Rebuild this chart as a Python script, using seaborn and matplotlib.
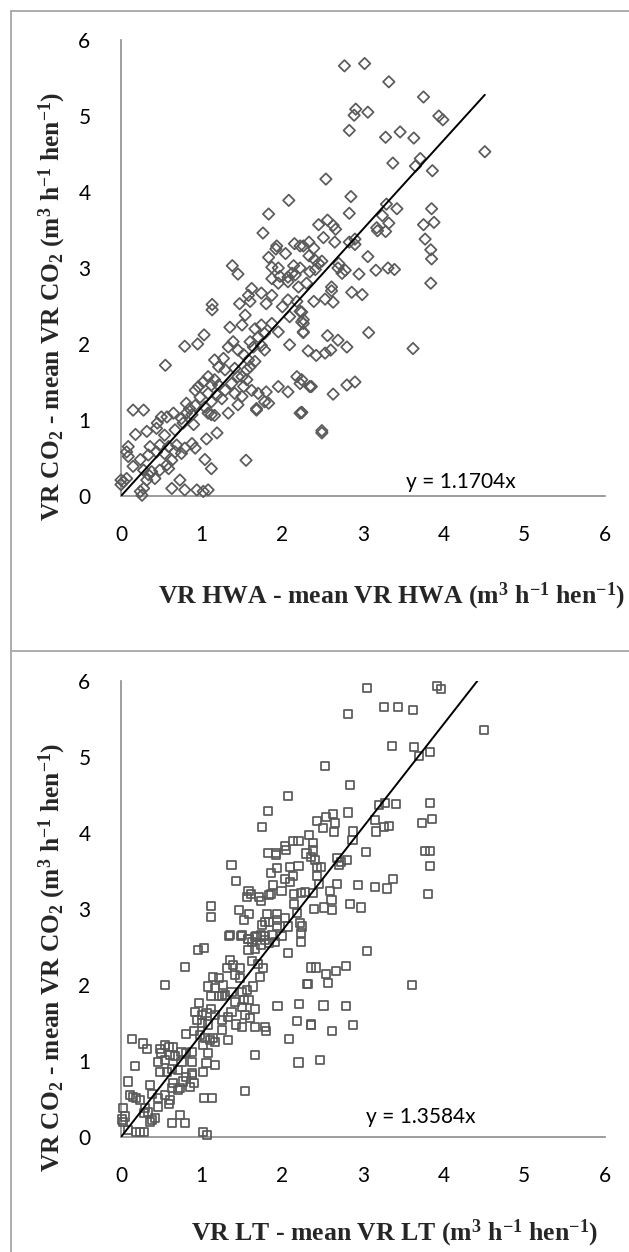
import numpy as np
import pandas as pd
import matplotlib
matplotlib.use("Agg")
import matplotlib.pyplot as plt
from matplotlib.lines import Line2D
import seaborn as sns

# ---------------- data: top panel (HWA) ----------------
hwa_x = [2.77, 3.02, 3.32, 3.75, 2.91, 2.89, 3.06, 3.94, 3.99, 2.83, 3.28, 3.46, 3.63, 4.51, 3.37, 3.71, 3.65, 3.86,
         2.54, 2.85, 2.08, 3.29, 3.42, 3.85, 2.83, 3.24, 1.83, 3.32, 3.75, 3.88, 3.17, 3.18, 3.28, 2.56, 2.45, 2.63,
         2.66, 1.76, 2.51, 2.65, 2.83, 2.90, 2.90, 3.77, 3.84, 3.85, 3.06, 3.16, 3.31, 3.39, 2.95,
         1.93, 1.92, 1.83, 1.87, 1.95, 2.04, 2.15, 2.22, 2.26, 2.33, 2.39, 2.33, 2.40, 2.45, 2.49, 2.41, 2.14, 2.22,
         2.12, 1.38, 1.45, 2.70, 2.69, 2.78, 2.74, 1.97, 2.07,
         3.84, 2.61, 2.61, 2.86, 2.99, 2.39, 2.53, 2.63, 2.24, 2.26, 2.26, 2.26, 2.56, 3.07, 2.69, 2.80, 2.32, 2.42,
         2.53, 2.60, 3.62, 2.24, 2.36, 2.63, 2.80, 2.90, 2.24, 2.49,
         1.13, 1.13, 0.55, 0.79, 0.95, 1.03, 0.15, 0.28, 1.35, 1.47, 1.60, 1.62, 1.58, 1.54, 1.50,
         1.87, 1.95, 2.07, 2.16, 2.20, 2.30, 2.34, 1.80, 1.87, 1.74, 2.00, 2.07, 2.18, 2.22, 2.09, 2.24, 2.26,
         1.95, 1.87, 1.74, 1.78, 1.66, 1.70, 1.60, 1.64, 1.74, 1.78, 2.09,
         1.33, 1.39, 1.45, 1.52, 1.27, 1.16, 1.21, 1.29, 1.41, 1.58, 1.66, 1.56, 1.60, 1.50,
         1.08, 1.16, 1.12, 1.21, 1.29, 1.19, 1.37, 1.45, 1.52, 1.41, 1.56,
         0.92, 0.96, 1.02, 0.98, 1.08, 1.12, 1.25, 0.81, 0.85, 0.92, 1.04, 1.08, 1.16, 1.33,
         1.62, 1.70, 1.80, 1.78, 1.95, 2.07, 2.18, 2.22, 2.34, 1.50, 1.45, 1.68, 1.83, 2.24, 0.50, 0.57, 0.65,
         0.45, 0.75, 0.81, 0.88, 1.12, 1.68, 2.22,
         0.18, 0.32, 0.44, 0.54, 0.67, 0.77, 0.90, 1.06, 1.19, 0.88, 0.79, 0.92, 0.69, 0.59,
         0.09, 0.07, 0.09, 0.24, 0.15, 0.34, 0.36, 0.48, 0.44, 0.54, 0.63, 0.67, 0.75, 1.04, 1.12, 1.55,
         0.28, 0.34, 0.42, 0.32, 0.38, 0.48, 0.57, 0.59, 0.00, 0.03, 0.07, 0.24, 0.28, 0.26,
         0.63, 0.73, 0.79, 0.94, 1.02, 1.08, 0.00, 2.49]
hwa_y = [5.66, 5.69, 5.45, 5.25, 5.09, 5.01, 5.05, 5.00, 4.95, 4.81, 4.72, 4.79, 4.71, 4.53, 4.38, 4.44, 4.34, 4.28,
         4.17, 3.94, 3.89, 3.84, 3.78, 3.78, 3.72, 3.69, 3.71, 3.59, 3.57, 3.60, 3.53, 3.49, 3.48, 3.63, 3.57, 3.56,
         3.51, 3.46, 3.40, 3.34, 3.34, 3.38, 3.31, 3.38, 3.24, 3.12, 3.15, 2.97, 3.00, 2.98, 2.92,
         3.29, 3.25, 3.14, 3.01, 3.00, 3.19, 3.32, 3.29, 3.29, 3.34, 3.26, 3.16, 3.11, 3.06, 3.09, 2.98, 3.03, 3.00,
         2.93, 3.03, 2.92, 3.06, 3.00, 2.97, 2.93, 2.89, 2.88,
         2.80, 2.75, 2.70, 2.68, 2.65, 2.56, 2.59, 2.55, 2.42, 2.32, 2.27, 2.15, 2.11, 2.15, 2.05, 1.96, 1.91, 1.85,
         1.88, 1.92, 1.94, 1.53, 1.44, 1.34, 1.46, 1.50, 1.10, 0.83,
         2.52, 2.45, 1.72, 1.97, 2.00, 2.12, 1.13, 1.13, 2.22, 2.53, 2.56, 2.73, 2.64, 2.38, 2.25,
         2.86, 2.80, 2.82, 2.91, 2.75, 2.80, 2.95, 2.53, 2.64, 2.67, 2.49, 2.58, 2.56, 2.43, 2.36, 2.29, 2.16,
         2.16, 2.27, 2.25, 2.14, 2.20, 2.09, 2.03, 1.96, 1.98, 1.92, 1.99,
         1.96, 2.03, 1.92, 1.86, 1.81, 1.79, 1.70, 1.66, 1.68, 1.79, 1.77, 1.66, 1.70, 1.57,
         1.57, 1.53, 1.46, 1.46, 1.39, 1.33, 1.48, 1.57, 1.44, 1.35, 1.53,
         1.39, 1.44, 1.50, 1.30, 1.35, 1.24, 1.28, 1.22, 1.15, 1.19, 1.17, 1.09, 1.06, 1.09,
         1.39, 1.35, 1.37, 1.24, 1.44, 1.37, 1.57, 1.48, 1.44, 1.31, 1.20, 1.15, 1.22, 1.10, 1.04, 1.04, 1.09,
         0.96, 1.02, 1.09, 1.07, 1.07, 1.13, 1.09,
         0.81, 0.85, 0.89, 0.80, 0.87, 0.96, 0.94, 0.75, 0.83, 0.69, 0.63, 0.63, 0.67, 0.65,
         0.65, 0.58, 0.52, 0.48, 0.39, 0.54, 0.65, 0.67, 0.58, 0.56, 0.47, 0.58, 0.56, 0.48, 0.36, 0.47,
         0.34, 0.28, 0.23, 0.21, 0.32, 0.34, 0.41, 0.36, 0.21, 0.19, 0.23, 0.06, 0.10, 0.01,
         0.10, 0.21, 0.08, 0.08, 0.06, 0.08, 0.15, 0.86]
hwa_slope = 1.1704

# ---------------- data: bottom panel (LT) ----------------
lt_x = [3.05, 3.92, 3.97, 3.26, 3.43, 3.62, 2.81, 4.50, 3.36, 3.63, 3.83, 3.69, 2.53, 2.84, 2.07, 3.20, 3.27, 3.41,
        3.83, 1.82, 2.81, 1.75, 2.43, 2.54, 2.63, 2.65, 2.50, 2.64, 2.88, 2.87, 3.15, 3.16, 3.26, 3.32, 3.73, 3.86,
        3.77, 3.83, 3.83, 3.81, 3.04, 3.37, 3.15, 3.30, 2.94, 2.84, 2.97, 2.68, 2.59, 2.61, 2.52, 2.62, 2.39,
        2.68, 2.80, 2.73, 2.70, 2.03, 2.04, 1.92, 1.92, 1.82, 2.13, 2.20, 2.33, 2.38, 2.30, 2.38,
        2.10, 2.20, 1.93, 1.86, 2.40, 2.43, 2.48, 2.43, 2.45, 2.35, 2.03, 2.13, 2.10, 1.99, 1.88, 1.86, 1.73,
        2.15, 2.23, 2.15, 2.18, 2.28, 2.38, 2.22, 2.24, 2.23, 2.23, 1.93, 1.93, 2.03, 1.83, 1.93, 2.07,
        1.81, 1.78, 1.75, 1.58, 1.61, 1.56, 1.71, 1.83, 1.43, 1.37, 1.12, 1.12, 1.46, 1.59, 1.52,
        1.34, 1.49, 1.58, 1.68, 1.78,
        1.35, 1.50, 1.58, 1.62, 1.66, 1.74, 1.78, 1.87, 1.91, 1.99, 1.66, 1.74, 1.83, 1.58, 2.07, 0.95, 1.03,
        0.79, 0.55, 1.35, 1.39, 1.47, 1.31, 1.41, 1.47, 1.70, 1.76, 1.72, 1.62,
        1.14, 1.21, 1.27, 1.08, 1.16, 1.12, 1.21, 1.25, 1.29, 1.37,
        1.50, 1.56, 1.64, 1.52, 1.41, 1.50, 1.58, 1.37, 1.54, 1.66, 1.94, 2.21, 2.31, 2.36,
        0.97, 0.92, 1.00, 1.06, 1.12, 1.16, 1.25, 1.33, 0.94, 1.00, 1.08,
        1.43, 1.50, 1.60, 1.66, 1.78, 1.80, 2.18, 2.35, 2.08, 1.25, 1.33,
        0.81, 0.90, 0.98, 1.04, 1.10, 1.14, 1.02, 1.08, 1.16, 1.66, 2.20, 0.14, 0.27, 0.32,
        0.48, 0.54, 0.59, 0.65, 0.50, 0.46, 0.54, 0.61, 0.67, 0.75, 0.81, 0.88, 0.75, 0.88, 0.48, 0.57, 0.63,
        0.71, 0.88, 0.17, 1.06, 1.16, 1.02,
        0.09, 0.11, 0.15, 0.19, 0.24, 0.36, 0.38, 0.46, 0.54, 0.61, 0.59, 0.46, 0.34, 0.38, 0.42, 0.36,
        0.03, 0.05, 0.01, 0.03, 0.28, 0.30, 0.73, 0.77, 0.85, 0.88, 0.90, 0.81, 0.65, 0.71, 0.63,
        1.03, 1.13, 1.54, 0.63, 0.73, 0.79, 0.19, 0.24, 0.28, 1.02, 1.07, 0.09,
        3.05, 2.42, 2.54, 2.67, 2.79, 2.32, 2.57, 3.61, 2.51, 2.79, 2.35, 2.62, 2.88, 2.47]
lt_y = [5.91, 5.94, 5.90, 5.66, 5.66, 5.62, 5.57, 5.35, 5.14, 5.13, 5.07, 5.01, 4.88, 4.63, 4.49, 4.37, 4.40, 4.38,
        4.40, 4.29, 4.27, 4.08, 4.16, 4.21, 4.25, 4.13, 4.07, 4.01, 4.02, 3.91, 4.17, 4.02, 4.08, 4.09, 4.13, 4.18,
        3.76, 3.76, 3.57, 3.20, 3.75, 3.40, 3.29, 3.27, 3.32, 3.07, 3.02, 3.33, 3.24, 3.12, 3.02, 2.99, 3.00,
        3.67, 3.65, 3.62, 3.58, 3.83, 3.78, 3.74, 3.71, 3.74, 3.90, 3.90, 3.97, 3.87, 3.73, 3.77,
        3.55, 3.56, 3.54, 3.47, 3.64, 3.55, 3.55, 3.44, 3.33, 3.69, 3.39, 3.44, 3.36, 3.24, 3.31, 3.20, 3.10,
        3.20, 3.21, 3.07, 2.95, 3.22, 3.21, 2.81, 2.77, 2.68, 2.57, 2.93, 2.85, 2.88, 2.83, 2.78, 2.77,
        2.93, 2.83, 2.79, 3.24, 3.20, 3.16, 3.16, 3.18, 3.37, 3.58, 3.04, 2.90, 2.99, 2.94, 2.85,
        2.65, 2.65, 2.60, 2.65, 2.65,
        2.66, 2.66, 2.61, 2.57, 2.63, 2.66, 2.59, 2.66, 2.57, 2.64, 2.48, 2.53, 2.55, 2.46, 2.42, 2.46, 2.49,
        2.24, 2.00, 2.33, 2.26, 2.22, 2.22, 2.13, 2.09, 2.28, 2.22, 2.11, 2.31,
        2.11, 2.09, 2.00, 1.98, 1.96, 1.85, 1.85, 1.85, 1.87, 1.91,
        1.91, 1.93, 1.98, 1.80, 1.78, 1.71, 1.80, 1.65, 1.61, 1.69, 1.72, 1.75, 2.01, 2.23,
        1.76, 1.65, 1.61, 1.63, 1.69, 1.61, 1.54, 1.58, 1.54, 1.50, 1.48,
        1.48, 1.45, 1.56, 1.45, 1.45, 1.39, 1.53, 1.48, 1.29, 1.41, 1.28,
        1.36, 1.39, 1.34, 1.30, 1.28, 1.30, 1.21, 1.10, 1.25, 1.08, 0.98, 1.29, 1.23, 1.16,
        1.16, 1.21, 1.19, 1.18, 1.10, 0.99, 1.01, 1.08, 1.06, 1.12, 1.10, 1.12, 0.99, 0.99, 0.86, 0.86, 0.90,
        0.88, 0.84, 0.93, 0.97, 0.95, 0.86,
        0.73, 0.55, 0.53, 0.51, 0.49, 0.69, 0.57, 0.51, 0.55, 0.49, 0.44, 0.40, 0.33, 0.22, 0.25, 0.20,
        0.38, 0.27, 0.23, 0.20, 0.31, 0.38, 0.64, 0.73, 0.66, 0.81, 0.71, 0.79, 0.71, 0.62, 0.64,
        0.51, 0.51, 0.61, 0.18, 0.29, 0.18, 0.07, 0.07, 0.07, 0.06, 0.03, 0.09,
        2.45, 2.23, 2.15, 2.18, 2.25, 2.01, 2.03, 2.00, 1.73, 1.72, 1.47, 1.40, 1.47, 1.01]
lt_slope = 1.3584

ticks = [0, 1, 2, 3, 4, 5, 6]
x_label_top = r"VR HWA - mean VR HWA (m$^{\mathbf{3}}$ h$^{\mathbf{-1}}$ hen$^{\mathbf{-1}}$)"
x_label_bot = r"VR LT - mean VR LT (m$^{\mathbf{3}}$ h$^{\mathbf{-1}}$ hen$^{\mathbf{-1}}$)"
y_label = r"VR CO$_{\mathbf{2}}$ - mean VR CO$_{\mathbf{2}}$ (m$^{\mathbf{3}}$ h$^{\mathbf{-1}}$ hen$^{\mathbf{-1}}$)"
eq_top = "y = 1.1704x"
eq_bot = "y = 1.3584x"

# ---------------- styling ----------------
sns.set_theme(style="white")
plt.rcParams["font.family"] = ["Lato", "DejaVu Sans"]
plt.rcParams["mathtext.fontset"] = "custom"
plt.rcParams["mathtext.rm"] = "Liberation Serif:bold"
plt.rcParams["mathtext.bf"] = "Liberation Serif:bold"
plt.rcParams["mathtext.it"] = "Liberation Serif:bold"

W, H = 629, 1252
fig = plt.figure(figsize=(W / 100, H / 100), dpi=100)

marker_col = "#5a5a5a"
spine_col = "#8c8c8c"
frame_col = "#a6a6a6"


def panel(rect, xs, ys, slope, marker, xlabel, eq, eq_pos, xlab_pos, ylab_pos):
    ax = fig.add_axes(rect)
    df = pd.DataFrame({"x": xs, "y": ys})
    sns.scatterplot(data=df, x="x", y="y", ax=ax, marker=marker, s=34,
                    facecolor="none", edgecolor=marker_col, linewidth=1.25,
                    clip_on=False, zorder=3)
    xl = np.array([0.0, max(xs)])
    sns.lineplot(x=xl, y=slope * xl, ax=ax, color="black", linewidth=1.4, zorder=4)
    ax.set_xlim(0, 6)
    ax.set_ylim(0, 6)
    ax.set_xticks(ticks)
    ax.set_yticks(ticks)
    ax.set_xticklabels([str(t) for t in ticks])
    ax.set_yticklabels([str(t) for t in ticks])
    for s in ["top", "right"]:
        ax.spines[s].set_visible(False)
    for s in ["left", "bottom"]:
        ax.spines[s].set_color(spine_col)
        ax.spines[s].set_linewidth(1.2)
    ax.tick_params(axis="both", which="major", direction="out", length=5, width=1.2,
                   color=spine_col, labelsize=15, labelcolor="black")
    ax.tick_params(axis="x", pad=16)
    ax.tick_params(axis="y", pad=17)
    ax.set_xlabel("")
    ax.set_ylabel("")
    ax.text(eq_pos[0], eq_pos[1], eq, fontsize=15, ha="center", va="center", color="black")
    fig.text(xlab_pos[0], xlab_pos[1], xlabel, family="Liberation Serif", fontweight="bold",
             fontsize=18.5, ha="center", va="center")
    fig.text(ylab_pos[0], ylab_pos[1], y_label, family="Liberation Serif", fontweight="bold",
             fontsize=18.3, ha="center", va="center", rotation=90)
    return ax


ax1 = panel([121 / W, 1 - 496 / H, 484 / W, 456 / H], hwa_x, hwa_y, hwa_slope, "D",
            x_label_top, eq_top, (4.21, 0.18), (392 / W, 1 - 596 / H), (52 / W, 1 - 306 / H))
ax2 = panel([121 / W, 1 - 1137 / H, 484 / W, 456 / H], lt_x, lt_y, lt_slope, "s",
            x_label_bot, eq_bot, (3.72, 0.26), (395 / W, 1 - 1233 / H), (52 / W, 1 - 957 / H))

# outer chart-area frames
fig.add_artist(Line2D([11 / W, 11 / W], [0, 1 - 10.7 / H], transform=fig.transFigure,
                      color=frame_col, linewidth=1.3))
fig.add_artist(Line2D([11 / W, 1], [1 - 10.7 / H, 1 - 10.7 / H], transform=fig.transFigure,
                      color=frame_col, linewidth=1.3))
fig.add_artist(Line2D([11 / W, 1], [1 - 650.7 / H, 1 - 650.7 / H], transform=fig.transFigure,
                      color=frame_col, linewidth=1.3))

fig.savefig("out.png", dpi=100, facecolor="white")
